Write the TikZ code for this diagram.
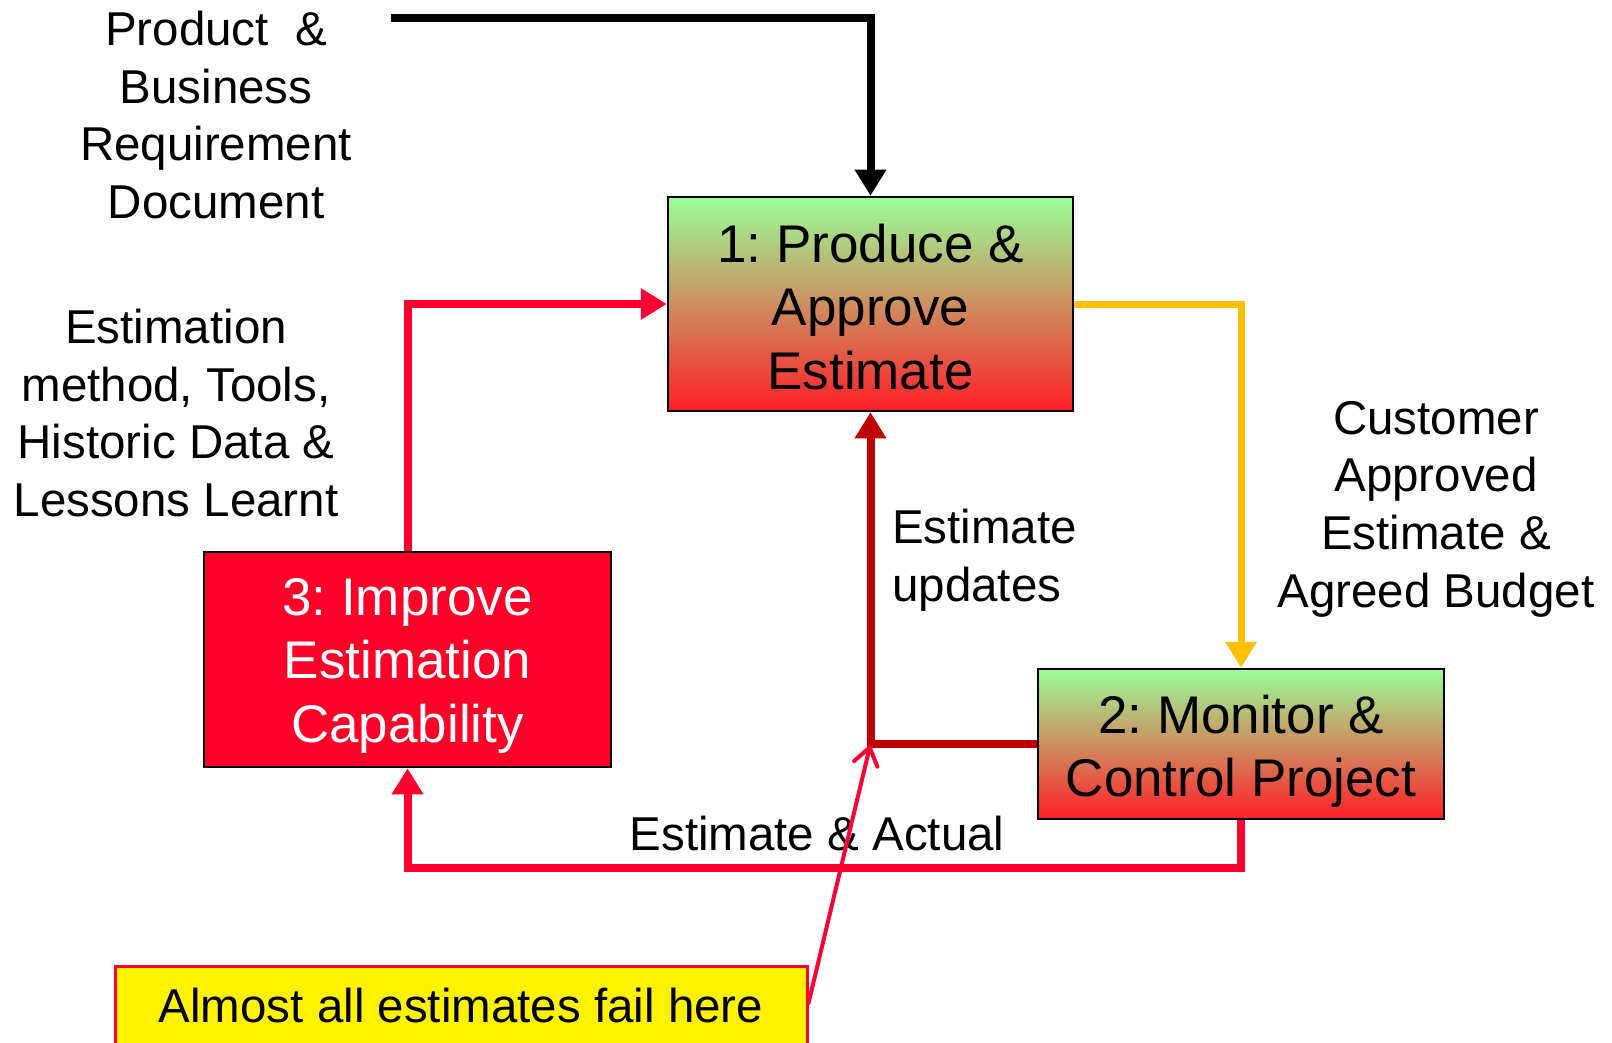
\documentclass[tikz,border=0pt]{standalone}
\usepackage{fontspec}
\setmainfont{Liberation Sans}
\frenchspacing
\usetikzlibrary{arrows.meta,positioning}
\definecolor{linered}{RGB}{255,0,51}
\definecolor{darkred}{RGB}{192,0,0}
\definecolor{gold}{RGB}{255,192,0}
\definecolor{lgreen}{RGB}{153,255,153}
\definecolor{boxred}{RGB}{255,30,40}
\definecolor{fillred}{RGB}{255,0,40}
\tikzset{
  lbl/.style={font=\fontsize{47.5}{57.6}\selectfont, align=center, inner sep=0pt},
  boxtxt/.style={font=\fontsize{53}{63.5}\selectfont, align=center, inner sep=0pt},
  gradbox/.style={draw=black, line width=2.5pt, top color=lgreen, bottom color=boxred, boxtxt},
  conn/.style={line width=8pt, -{Triangle[length=26pt,width=30pt]}},
}
\begin{document}
\begin{tikzpicture}[x=1pt,y=-1pt]
\useasboundingbox (0,0) rectangle (1612,1043);
\clip (0,0) rectangle (1612,1043);
% boxes
\node[gradbox, minimum width=405pt, minimum height=214pt, text height=170.9pt] (b1) at (870.5,304) {1: Produce \&\\Approve\\Estimate};
\node[gradbox, minimum width=406pt, minimum height=150pt, text height=116.5pt] (b2) at (1241,744) {2: Monitor \&\\Control Project};
\node[draw=black, line width=2.5pt, fill=fillred, text=white, boxtxt, minimum width=407pt, minimum height=215pt, text height=176.2pt] (b3) at (407.5,659.5) {3: Improve\\Estimation\\Capability};
% labels
\node[lbl] (lprod) at (216,115) {Product~~\&\\Business\\Requirement\\Document};
\node[lbl] (lest) at (176,413) {Estimation\\method, Tools,\\Historic Data \&\\Lessons Learnt};
\node[lbl, align=left, anchor=west] (lupd) at (892,560) {Estimate\\updates};
\node[lbl] (lcust) at (1436,509) {Customer\\Approved\\Estimate \&\\Agreed Budget};
\node[lbl] (lact) at (817,834) {Estimate \& Actual};
% yellow note
\node[draw=linered, line width=3pt, fill=yellow, lbl, minimum width=692pt, minimum height=80pt] (note) at (461,1006) {Almost all estimates fail here};
% connectors
\coordinate (src) at (391,18.5);
\draw[conn, black] (src) -| (b1.north);
\draw[conn, linered] (b3.north) |- (b1.west);
\draw[conn, gold, line width=7pt] (b1.east) -| (b2.north);
\draw[conn, darkred] (b2.west) -| (b1.south);
\coordinate (corner) at (b1.south |- b2.west);
\draw[conn, linered] (b2.south) -- ++(0,48) -| (b3.south);
\draw[linered, line width=4pt, line cap=round, -{Straight Barb[length=17pt,width=24pt,line cap=round]}] (note.east |- 0,1003) -- (corner);
\end{tikzpicture}
\end{document}
